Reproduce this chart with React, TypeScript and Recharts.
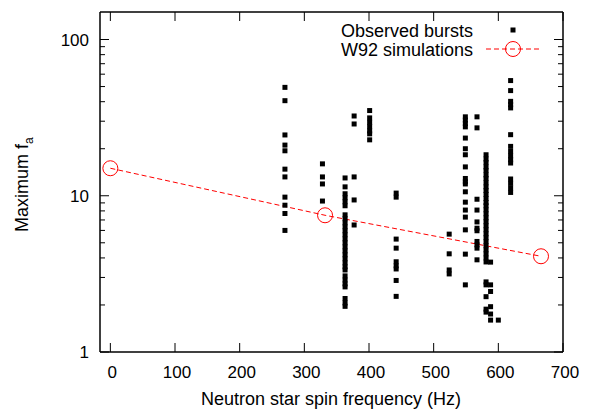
import React from "react";
import { ScatterChart, Scatter, XAxis, YAxis } from "recharts";

// observed bursts: one array of maximum f_a per source, keyed by spin (Hz)
const spin270 = [49.4, 40.6, 24.5, 21.1, 19.4, 14.8, 13.2, 9.8, 8.7, 7.7, 6.0];
const spin328 = [16.0, 13.2, 11.9, 9.25];
const spin363 = [
  13.0, 11.4, 10.3, 9.71, 9.15, 8.63, 7.55, 7.13, 6.71, 6.33, 5.97, 5.63, 5.3, 5.0,
  4.71, 4.44, 4.19, 3.95, 3.72, 3.51, 3.35, 3.07, 2.89, 2.73, 2.61, 2.2, 2.06, 1.96,
];
const spin377 = [32.4, 28.8, 13.2, 9.4, 6.5];
const spin401 = [35.1, 31.5, 29.5, 27.7, 26.0, 24.9, 22.8];
const spin442 = [10.4, 9.8, 5.28, 4.62, 3.78, 3.56, 3.4, 2.87, 2.27];
const spin524 = [5.68, 4.25, 3.35, 3.16];
const spin549 = [32, 30.5, 29, 27.6, 23.4, 20.0, 18.3, 15.3, 12.9, 12.3, 11.9, 10.6, 9.1, 8.1, 7.3, 6.05, 4.23, 2.69];
const spin567 = [32, 27.2, 9.5, 8.1, 6.8, 6.2, 5.97, 5.1, 4.85, 4.62, 3.89];
const spin581 = [
  18.3, 17.2, 16.3, 15.3, 14.5, 13.6, 12.9, 12.1, 11.4, 10.8, 10.2, 9.6, 9.05, 8.63,
  8.13, 7.67, 7.23, 6.82, 6.43, 6.06, 5.71, 5.39, 5.08, 4.79, 4.51, 4.25, 4.0, 3.77,
  2.81, 2.69, 2.26, 1.88, 1.8,
];
const spin588 = [3.76, 2.69, 2.44, 1.95, 1.75, 1.6];
const spin600 = [1.6];
const spin619 = [54.6, 47.1, 40.2, 38.3, 36.5, 24.6, 20.7, 19.2, 18.0, 17.0, 16.2, 12.8, 12.0, 11.2, 10.5];

const burstSources: [number, number[]][] = [
  [270, spin270], [328, spin328], [363, spin363], [377, spin377], [401, spin401],
  [442, spin442], [524, spin524], [549, spin549], [567, spin567], [581, spin581],
  [588, spin588], [600, spin600], [619, spin619],
];

// W92 simulations
const simSpin = [0, 332, 666];
const simFa = [15, 7.5, 4.1];

const xTicks = [0, 100, 200, 300, 400, 500, 600, 700];
const yTicks = [1, 2, 3, 4, 5, 6, 7, 8, 9, 10, 20, 30, 40, 50, 60, 70, 80, 90, 100];
const yMajor = [1, 10, 100];

const bursts = burstSources.flatMap(([spin, vals]) => vals.map((fa) => ({ spin, fa })));
const sims = simSpin.map((spin, i) => ({ spin, fa: simFa[i] }));

const FONT = "'Liberation Sans', Arial, Helvetica, sans-serif";
const PL = 100;
const PR = 563;
const PT = 12;
const PB = 352;
const RED = "#ff0000";

const BurstSquare = (p: any) => (
  <rect x={p.cx - 2.5} y={p.cy - 2.5} width={5} height={5} fill="#000" />
);

const SimCircle = (p: any) => (
  <circle cx={p.cx} cy={p.cy} r={7.5} fill="none" stroke={RED} strokeWidth={1} />
);

const NoMark = () => <g />;

const BottomTick = (p: any) => (
  <g>
    <line x1={p.x} x2={p.x} y1={PB} y2={PB - 9} stroke="#000" strokeWidth={1} />
    <text x={p.x + 2} y={378} textAnchor="middle" fontSize={17} fontFamily={FONT} fill="#000">
      {p.payload.value}
    </text>
  </g>
);

const TopTick = (p: any) => (
  <line x1={p.x} x2={p.x} y1={PT} y2={PT + 9} stroke="#000" strokeWidth={1} />
);

const LeftTick = (p: any) => {
  const v = p.payload.value;
  const major = yMajor.includes(v);
  return (
    <g>
      <line x1={PL} x2={PL + (major ? 9 : 5)} y1={p.y} y2={p.y} stroke="#000" strokeWidth={1} />
      {major && (
        <text x={89} y={p.y + 6} textAnchor="end" fontSize={17} fontFamily={FONT} fill="#000">
          {v}
        </text>
      )}
    </g>
  );
};

const RightTick = (p: any) => {
  const major = yMajor.includes(p.payload.value);
  return <line x1={PR} x2={PR - (major ? 9 : 5)} y1={p.y} y2={p.y} stroke="#000" strokeWidth={1} />;
};

const xLabel = () => (
  <text x={331} y={405} textAnchor="middle" fontSize={18} fontFamily={FONT} fill="#000">
    Neutron star spin frequency (Hz)
  </text>
);

const yLabel = () => (
  <text
    x={28}
    y={232}
    transform="rotate(-90, 28, 232)"
    fontSize={18}
    fontFamily={FONT}
    fill="#000"
  >
    Maximum f
    <tspan fontSize={12} dy={5}>a</tspan>
  </text>
);

const legend = () => (
  <g fontFamily={FONT} fontSize={18} fill="#000">
    <text x={473} y={36.5} textAnchor="end">Observed bursts</text>
    <rect x={510.5} y={27.5} width={5} height={5} fill="#000" />
    <text x={473} y={56} textAnchor="end">W92 simulations</text>
    <line x1={486} x2={540} y1={49} y2={49} stroke={RED} strokeDasharray="5 3" />
    <circle cx={513} cy={49} r={7.5} fill="none" stroke={RED} />
  </g>
);

export default function App() {
  return (
    <div style={{ width: 590, height: 409, background: "#fff" }}>
      <style>{"body{margin:0}"}</style>
      <ScatterChart width={590} height={409} margin={{ top: PT - 1, right: 26, bottom: 0, left: 0 }}>
        <XAxis
          xAxisId="bottom"
          dataKey="spin"
          type="number"
          domain={[-16, 700]}
          ticks={xTicks}
          interval={0}
          height={57}
          axisLine={{ stroke: "#000", strokeWidth: 1.5 }}
          tickLine={false}
          tick={BottomTick}
          label={xLabel}
          allowDataOverflow
        />
        <XAxis
          xAxisId="top"
          dataKey="spin"
          orientation="top"
          type="number"
          domain={[-16, 700]}
          ticks={xTicks}
          interval={0}
          height={1}
          axisLine={{ stroke: "#000", strokeWidth: 1.5 }}
          tickLine={false}
          tick={TopTick}
          label={legend}
          allowDataOverflow
        />
        <YAxis
          yAxisId="left"
          dataKey="fa"
          type="number"
          scale="log"
          domain={[1, 150]}
          ticks={yTicks}
          interval={0}
          width={100}
          axisLine={{ stroke: "#000", strokeWidth: 1.5 }}
          tickLine={false}
          tick={LeftTick}
          label={yLabel}
          allowDataOverflow
        />
        <YAxis
          yAxisId="right"
          dataKey="fa"
          orientation="right"
          type="number"
          scale="log"
          domain={[1, 150]}
          ticks={yTicks}
          interval={0}
          width={1}
          axisLine={{ stroke: "#000", strokeWidth: 1.5 }}
          tickLine={false}
          tick={RightTick}
          allowDataOverflow
        />
        <Scatter
          xAxisId="top"
          yAxisId="right"
          data={sims}
          shape={NoMark}
          isAnimationActive={false}
        />
        <Scatter
          xAxisId="bottom"
          yAxisId="left"
          data={sims}
          shape={SimCircle}
          line={{ stroke: RED, strokeWidth: 1, strokeDasharray: "5 3" }}
          lineType="joint"
          isAnimationActive={false}
        />
        <Scatter
          xAxisId="bottom"
          yAxisId="left"
          data={bursts}
          shape={BurstSquare}
          isAnimationActive={false}
        />
      </ScatterChart>
    </div>
  );
}
